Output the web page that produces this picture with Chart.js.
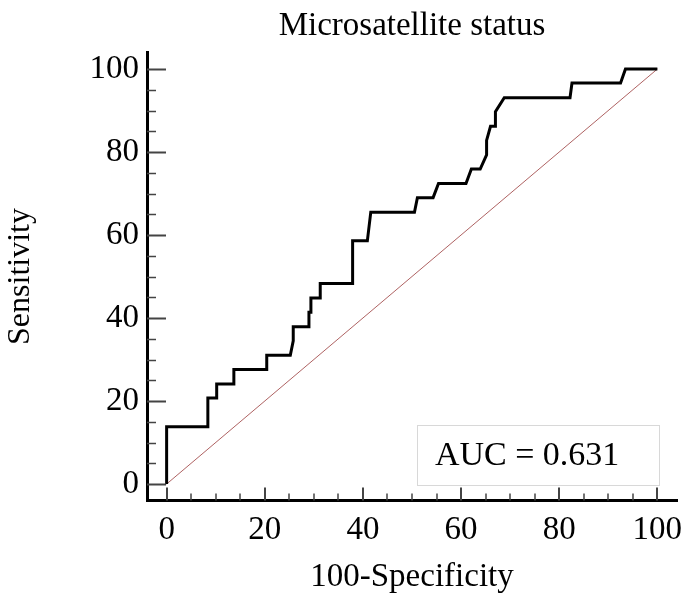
<!DOCTYPE html>
<html>
<head>
<meta charset="utf-8">
<script src="https://cdn.jsdelivr.net/npm/chart.js@4"></script>
<style>
  html, body { margin: 0; padding: 0; background: #fff; }
  #wrap { width: 685px; height: 593px; }
</style>
</head>
<body>
<div id="wrap"><canvas id="rocChart"></canvas></div>
<script>
// ROC curve - Microsatellite status

// 100-Specificity (x) and Sensitivity (y) of the step curve
const fpr = [0, 0, 8.4, 8.4, 10.2, 10.2, 13.7, 13.7, 20.4, 20.4, 25.2, 25.8, 25.8, 29.0, 29.0, 29.4, 29.4,
    31.3, 31.3, 37.9, 37.9, 40.9, 41.6, 50.5, 51.1, 54.3, 55.4, 61.0, 62.1, 63.9, 65.2, 65.2, 66.0,
    67.0, 67.0, 68.8, 82.2, 82.6, 92.5, 93.5, 100];
const tpr = [0, 13.8, 13.8, 20.7, 20.7, 24.1, 24.1, 27.6, 27.6, 31.0, 31.0, 34.5, 37.9, 37.9, 41.4, 41.4, 44.8,
    44.8, 48.3, 48.3, 58.6, 58.6, 65.5, 65.5, 69.0, 69.0, 72.4, 72.4, 75.9, 75.9, 79.3, 82.8, 86.2,
    86.2, 89.7, 93.1, 93.1, 96.6, 96.6, 100, 100];

// reference (chance) line
const chanceX = [0, 100];
const chanceY = [0, 100];

// axis ticks
const xTicks = [0, 20, 40, 60, 80, 100];
const yTicks = [0, 20, 40, 60, 80, 100];
const minorTicks = [5, 10, 15, 25, 30, 35, 45, 50, 55, 65, 70, 75, 85, 90, 95];

const aucText = 'AUC = 0.631';

const serif = "'Liberation Serif', 'Times New Roman', serif";

// inward tick marks + AUC box
const decorPlugin = {
    id: 'decor',
    afterDraw(chart) {
        const ctx = chart.ctx;
        const xs = chart.scales.x;
        const ys = chart.scales.y;
        const left = chart.chartArea.left;
        const bottom = chart.chartArea.bottom;
        ctx.save();
        ctx.strokeStyle = '#444';
        ctx.lineWidth = 2;
        ctx.beginPath();
        yTicks.forEach(v => {
            const y = Math.round(ys.getPixelForValue(v)) + 0.5;
            ctx.moveTo(left, y); ctx.lineTo(left + 19, y);
        });
        xTicks.forEach(v => {
            const x = Math.round(xs.getPixelForValue(v));
            ctx.moveTo(x, bottom); ctx.lineTo(x, bottom - 13);
        });
        ctx.stroke();
        ctx.lineWidth = 1.5;
        ctx.beginPath();
        minorTicks.forEach(v => {
            const y = Math.round(ys.getPixelForValue(v)) + 0.5;
            ctx.moveTo(left, y); ctx.lineTo(left + 9, y);
            const x = Math.round(xs.getPixelForValue(v));
            ctx.moveTo(x, bottom); ctx.lineTo(x, bottom - 7);
        });
        ctx.stroke();

        // AUC label box
        const bx0 = xs.getPixelForValue(51);
        const bx1 = xs.getPixelForValue(100.4);
        const by0 = ys.getPixelForValue(14.3);
        const by1 = ys.getPixelForValue(-0.2);
        ctx.strokeStyle = '#d8d8d8';
        ctx.lineWidth = 1;
        ctx.strokeRect(Math.round(bx0) + 0.5, Math.round(by0) + 0.5, Math.round(bx1 - bx0), Math.round(by1 - by0));
        ctx.fillStyle = '#000';
        ctx.font = '34px ' + serif;
        ctx.textAlign = 'left';
        ctx.textBaseline = 'middle';
        ctx.fillText(aucText, bx0 + 18, (by0 + by1) / 2 + 1);
        ctx.restore();
    }
};

const ctx = document.getElementById('rocChart').getContext('2d');
new Chart(ctx, {
    type: 'scatter',
    data: {
        datasets: [{
            label: 'ROC',
            data: fpr.map((x, i) => ({ x: x, y: tpr[i] })),
            showLine: true,
            borderColor: '#000',
            borderWidth: 3,
            borderJoinStyle: 'miter',
            pointRadius: 0,
            tension: 0
        }, {
            label: 'Chance',
            data: chanceX.map((x, i) => ({ x: x, y: chanceY[i] })),
            showLine: true,
            borderColor: 'rgba(160, 70, 70, 0.85)',
            borderWidth: 1,
            pointRadius: 0,
            tension: 0
        }]
    },
    options: {
        responsive: true,
        maintainAspectRatio: false,
        animation: false,
        layout: { padding: { left: 0, right: 8, top: 0, bottom: 0 } },
        plugins: {
            legend: { display: false },
            tooltip: { enabled: false },
            title: {
                display: true,
                text: 'Microsatellite status',
                color: '#000',
                fullSize: false,
                font: { family: serif, size: 33, weight: 'normal', lineHeight: 1.2 },
                padding: { top: 6.2, bottom: 6.6 }
            }
        },
        scales: {
            x: {
                type: 'linear',
                min: -4,
                max: 104,
                afterBuildTicks: s => { s.ticks = xTicks.map(v => ({ value: v })); },
                afterFit: s => { s.height = 92.4; s.paddingLeft = 0; s.paddingRight = 0; },
                grid: { display: false, drawTicks: false },
                border: { display: true, color: '#000', width: 3 },
                ticks: {
                    color: '#000',
                    padding: 10,
                    maxRotation: 0,
                    font: { family: serif, size: 33, lineHeight: 1.2 }
                },
                title: {
                    display: true,
                    text: '100-Specificity',
                    color: '#000',
                    font: { family: serif, size: 33, lineHeight: 1 },
                    padding: { top: 0, bottom: -1 }
                }
            },
            y: {
                type: 'linear',
                min: -4,
                max: 104,
                afterBuildTicks: s => { s.ticks = yTicks.map(v => ({ value: v })); },
                afterFit: s => { s.width = 147; s.paddingTop = 0; s.paddingBottom = 0; },
                grid: { display: false, drawTicks: false },
                border: { display: true, color: '#000', width: 3 },
                ticks: {
                    color: '#000',
                    padding: 8,
                    font: { family: serif, size: 33, lineHeight: 1.2 }
                },
                title: {
                    display: true,
                    text: 'Sensitivity',
                    color: '#000',
                    font: { family: serif, size: 32, lineHeight: 1 },
                    padding: { top: 5, bottom: 0 }
                }
            }
        }
    },
    plugins: [decorPlugin]
});
</script>
</body>
</html>
